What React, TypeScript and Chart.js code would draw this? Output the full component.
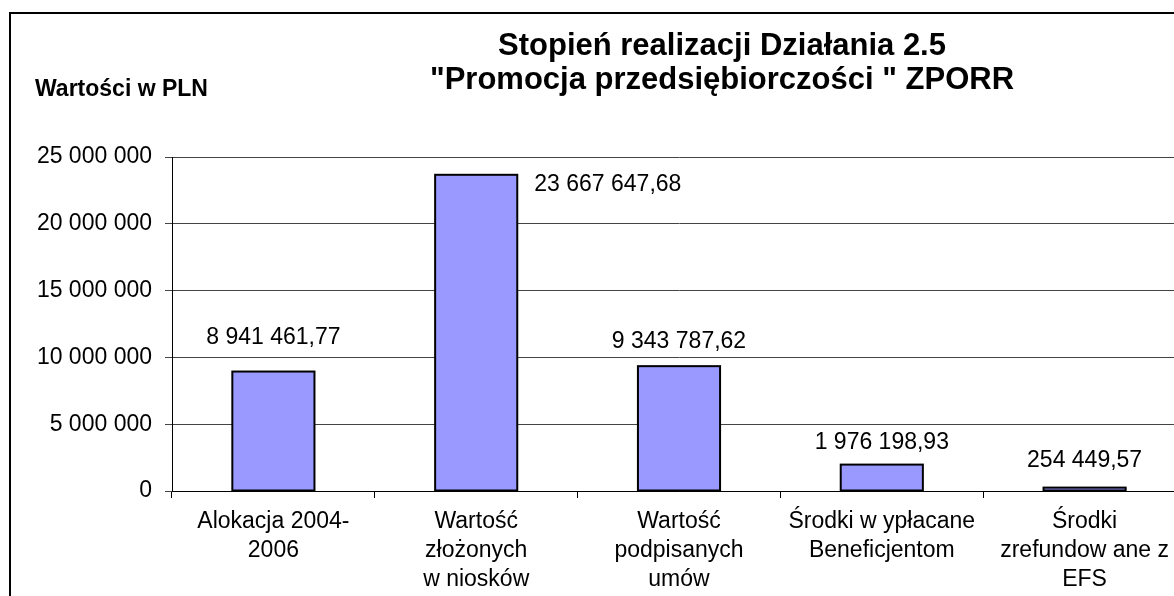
import React, { useEffect, useRef } from "react";
import { Chart, registerables } from "chart.js";

Chart.register(...registerables);

// ---- data ----
const categories: string[][] = [
  ["Alokacja 2004-", "2006"],
  ["Wartość", "złożonych", "w niosków"],
  ["Wartość", "podpisanych", "umów"],
  ["Środki w ypłacane", "Beneficjentom"],
  ["Środki", "zrefundow ane z", "EFS"],
];
const values: number[] = [8941461.77, 23667647.68, 9343787.62, 1976198.93, 254449.57];
const titleLines: string[] = [
  "Stopień realizacji Działania 2.5",
  "\"Promocja przedsiębiorczości \" ZPORR",
];
const axisTitle = "Wartości w PLN";
const yMin = 0;
const yMax = 25000000;
const yStep = 5000000;

// ---- styling / placement ----
const FONT = "'Liberation Sans', Arial, Helvetica, sans-serif";
const labelPlacement = [
  { dx: 0, dy: -34, align: "center" },
  { dx: 17, dy: 10, align: "left" },
  { dx: 0, dy: -25, align: "center" },
  { dx: 0, dy: -22, align: "center" },
  { dx: 0, dy: -27, align: "center" },
];

function groupThousands(s: string): string {
  return s.replace(/\B(?=(\d{3})+(?!\d))/g, " ");
}
function fmtValue(v: number): string {
  const [i, d] = v.toFixed(2).split(".");
  return groupThousands(i) + "," + d;
}
function fmtTick(v: number): string {
  return groupThousands(String(Math.round(v)));
}

const decorPlugin = {
  id: "decor",
  beforeDraw(chart: any) {
    const ctx = chart.ctx;
    ctx.save();
    ctx.fillStyle = "#ffffff";
    ctx.fillRect(0, 0, chart.width, chart.height);
    ctx.restore();
  },
  afterDatasetsDraw(chart: any) {
    // Excel-style outline: stroke centred on the bar edges
    const ctx = chart.ctx;
    ctx.save();
    ctx.strokeStyle = "#000";
    ctx.lineWidth = 2;
    const meta = chart.getDatasetMeta(0);
    meta.data.forEach((bar: any) => {
      const left = bar.x - bar.width / 2;
      const top = Math.min(bar.y, bar.base);
      const h = Math.abs(bar.base - bar.y);
      ctx.strokeRect(left, top, bar.width, h);
    });
    ctx.restore();
  },
  afterDraw(chart: any) {
    const ctx = chart.ctx;
    ctx.save();
    // outer frame
    ctx.strokeStyle = "#000";
    ctx.lineWidth = 2;
    ctx.strokeRect(10, 13, chart.width + 40, chart.height + 40);
    // title
    ctx.fillStyle = "#000";
    ctx.textAlign = "center";
    ctx.textBaseline = "middle";
    ctx.font = `bold 31px ${FONT}`;
    ctx.fillText(titleLines[0], 722, 46);
    ctx.fillText(titleLines[1], 722, 80);
    // axis title
    ctx.textAlign = "left";
    ctx.font = `bold 23px ${FONT}`;
    ctx.fillText(axisTitle, 35, 90);
    // data labels
    ctx.font = `23px ${FONT}`;
    const meta = chart.getDatasetMeta(0);
    meta.data.forEach((bar: any, i: number) => {
      const p = labelPlacement[i];
      const txt = fmtValue(values[i]);
      let x = bar.x + p.dx;
      if (p.align === "left") x = bar.x + bar.width / 2 + p.dx;
      ctx.textAlign = p.align;
      ctx.fillText(txt, x, bar.y + p.dy);
    });
    ctx.restore();
  },
};

export default function App() {
  const ref = useRef<HTMLCanvasElement | null>(null);
  useEffect(() => {
    if (!ref.current) return;
    const chart = new Chart(ref.current, {
      type: "bar",
      data: {
        labels: categories,
        datasets: [
          {
            data: values,
            backgroundColor: "#9999FF",
            borderWidth: 0,
            barPercentage: 0.405,
            categoryPercentage: 1,
          },
        ],
      },
      options: {
        responsive: false,
        animation: false,
        devicePixelRatio: 1,
        layout: { padding: { left: 0, top: 157, right: 14, bottom: 24 } },
        plugins: {
          legend: { display: false },
          title: { display: false },
          tooltip: { enabled: false },
        },
        scales: {
          x: {
            grid: {
              display: true,
              drawOnChartArea: false,
              drawTicks: true,
              tickLength: 7,
              color: "#000",
              offset: true,
            },
            border: { display: true, color: "#000", width: 1 },
            ticks: {
              color: "#000",
              font: { family: FONT, size: 23, lineHeight: 1.26 },
              padding: 9,
              maxRotation: 0,
              autoSkip: false,
            },
            afterFit: (s: any) => {
              s.height = 105;
            },
          },
          y: {
            min: yMin,
            max: yMax,
            ticks: {
              stepSize: yStep,
              color: "#000",
              font: { family: FONT, size: 23 },
              padding: 13,
              callback: (v: any) => fmtTick(Number(v)),
            },
            grid: { color: "#444", tickLength: 7, drawTicks: true, lineWidth: 1 },
            border: { display: true, color: "#000", width: 1 },
            afterFit: (s: any) => {
              s.width = 172;
            },
          },
        },
      },
      plugins: [decorPlugin],
    });
    return () => chart.destroy();
  }, []);
  return (
    <div
      style={{
        position: "fixed",
        left: 0,
        top: 0,
        width: 1174,
        height: 596,
        overflow: "hidden",
        background: "#fff",
      }}
    >
      <canvas ref={ref} width={1200} height={620} style={{ display: "block" }} />
    </div>
  );
}
